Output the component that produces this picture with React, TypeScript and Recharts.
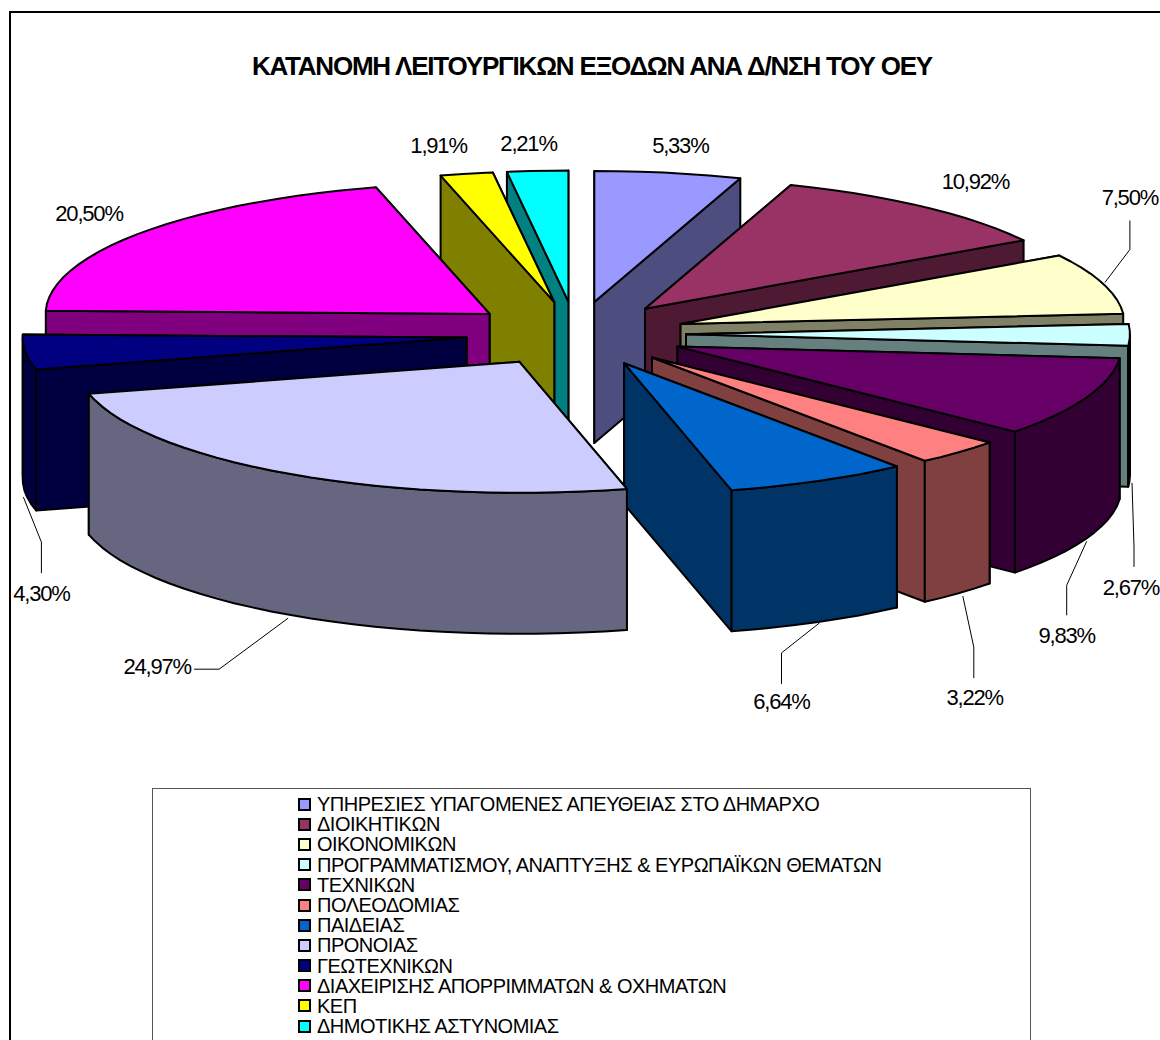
import { Legend, Pie, PieChart } from 'recharts';

const categories = [
  'ΥΠΗΡΕΣΙΕΣ ΥΠΑΓΟΜΕΝΕΣ ΑΠΕΥΘΕΙΑΣ ΣΤΟ ΔΗΜΑΡΧΟ',
  'ΔΙΟΙΚΗΤΙΚΩΝ',
  'ΟΙΚΟΝΟΜΙΚΩΝ',
  'ΠΡΟΓΡΑΜΜΑΤΙΣΜΟΥ, ΑΝΑΠΤΥΞΗΣ & ΕΥΡΩΠΑΪΚΩΝ ΘΕΜΑΤΩΝ',
  'ΤΕΧΝΙΚΩΝ',
  'ΠΟΛΕΟΔΟΜΙΑΣ',
  'ΠΑΙΔΕΙΑΣ',
  'ΠΡΟΝΟΙΑΣ',
  'ΓΕΩΤΕΧΝΙΚΩΝ',
  'ΔΙΑΧΕΙΡΙΣΗΣ ΑΠΟΡΡΙΜΜΑΤΩΝ & ΟΧΗΜΑΤΩΝ',
  'ΚΕΠ',
  'ΔΗΜΟΤΙΚΗΣ ΑΣΤΥΝΟΜΙΑΣ',
];
const shares = [5.33, 10.92, 7.5, 2.67, 9.83, 3.22, 6.64, 24.97, 4.3, 20.5, 1.91, 2.21];

const topColors = ['#9999FF', '#993366', '#FFFFCC', '#CCFFFF', '#660066', '#FF8080', '#0066CC', '#CCCCFF', '#000080', '#FF00FF', '#FFFF00', '#00FFFF'];
const sideColors = ['#4D4D80', '#4D1933', '#808066', '#668080', '#330033', '#804040', '#003366', '#666680', '#000040', '#800080', '#808000', '#008080'];

// back to front, the pie is tilted so this can't just be data order
const paintOrder = [11, 10, 9, 0, 1, 2, 3, 4, 5, 6, 8, 7];

const rows = categories.map((name, i) => ({ name, value: shares[i] }));

const CX = 576;
const CY = 334;
const RADIUS = 444;
const SQUASH = 0.295;
const EXPLODE = 110;
const DEPTH = 141;
const FONT = '"Liberation Sans", Arial, sans-serif';

// label centre, relative to the middle of the slice's rim
const labelNudges = [
  [12, -27], [52, -25], [27, -86], [1, 253], [-20, 238], [16, 245],
  [-37, 221], [-134, 192], [16, 241], [-52, -19], [-28, -28], [-9, -27],
];
const leaderNudges: Record<number, number[][]> = {
  2: [[2, -1], [27, -34], [27, -63]],
  3: [[2, 148], [4, 212], [4, 232]],
  4: [[0, 144], [-20, 188], [-20, 218]],
  5: [[4, 144], [15, 195], [15, 226]],
  6: [[1, 142], [-37, 172], [-37, 203]],
  7: [[-3, 144], [-72, 195], [-97, 195]],
  8: [[-2, 145], [16, 190], [16, 221]],
};

const rad = (deg: number) => (deg * Math.PI) / 180;
// recharts angles run counter-clockwise from 3 o'clock, these are clockwise from 12
const toClock = (angle: number) => 90 - angle;

function rimPoint(cx: number, cy: number, r: number, mid: number, clock: number) {
  return [
    cx + EXPLODE * Math.sin(rad(mid)) + r * Math.sin(rad(clock)),
    cy - SQUASH * (EXPLODE * Math.cos(rad(mid)) + r * Math.cos(rad(clock))),
  ];
}

const toPoints = (pts: number[][]) => pts.map((p) => `${p[0].toFixed(1)},${p[1].toFixed(1)}`).join(' ');
const drop = (pts: number[][]) => pts.map((p) => [p[0], p[1] + DEPTH]);

function Slice3D(props: any) {
  const { cx, cy, outerRadius, startAngle, endAngle, name } = props;
  const i = categories.indexOf(name);
  const a0 = toClock(startAngle);
  const a1 = toClock(endAngle);
  const mid = (a0 + a1) / 2;
  const apex = rimPoint(cx, cy, 0, mid, mid);
  const at = (t: number) => rimPoint(cx, cy, outerRadius, mid, t);

  const arc = (from: number, to: number) => {
    const pts: number[][] = [];
    for (let t = from; t < to; t += 3) pts.push(at(t));
    pts.push(at(to));
    return pts;
  };

  const walls = [at(a0), at(a1)]
    .sort((p, q) => p[1] - q[1])
    .map((edge) => [apex, edge, ...drop([edge]), ...drop([apex])]);

  const rimFrom = Math.max(a0, 90);
  const rimTo = Math.min(a1, 270);
  const rim = rimFrom < rimTo ? arc(rimFrom, rimTo) : null;

  return (
    <g stroke="#000" strokeWidth={2} strokeLinejoin="round">
      {walls.map((w, k) => (
        <polygon key={k} points={toPoints(w)} fill={sideColors[i]} />
      ))}
      {rim && <polygon points={toPoints([...rim, ...drop(rim).reverse()])} fill={sideColors[i]} />}
      <polygon points={toPoints([apex, ...arc(a0, a1)])} fill={topColors[i]} />
    </g>
  );
}

function PercentLabel(props: any) {
  const { cx, cy, outerRadius, midAngle, name } = props;
  const i = categories.indexOf(name);
  const mid = toClock(midAngle);
  const [ax, ay] = rimPoint(cx, cy, outerRadius, mid, mid);
  const [dx, dy] = labelNudges[i];
  const leader = leaderNudges[i];
  return (
    <g>
      {leader && (
        <polyline
          points={toPoints(leader.map((p) => [ax + p[0], ay + p[1]]))}
          fill="none"
          stroke="#000"
          strokeWidth={1}
        />
      )}
      <text
        x={ax + dx}
        y={ay + dy}
        textAnchor="middle"
        dominantBaseline="central"
        fontFamily={FONT}
        fontSize={22}
        letterSpacing={-1.2}
        fill="#000"
      >
        {shares[i].toFixed(2).replace('.', ',')}%
      </text>
    </g>
  );
}

function LegendBox() {
  return (
    <div style={{ width: 879, height: 280, boxSizing: 'border-box', border: '1px solid #555', background: '#fff', paddingTop: 5, fontFamily: FONT }}>
      {categories.map((name, i) => (
        <div key={name} style={{ height: 20.2, display: 'flex', alignItems: 'center', paddingLeft: 145 }}>
          <span style={{ width: 13, height: 13, boxSizing: 'border-box', border: '2px solid #000', background: topColors[i], marginRight: 6, flex: 'none' }} />
          <span style={{ fontSize: 20, letterSpacing: -0.5, lineHeight: '20px', whiteSpace: 'nowrap', color: '#000' }}>{name}</span>
        </div>
      ))}
    </div>
  );
}

export default function App() {
  return (
    <div style={{ position: 'absolute', left: 0, top: 0, width: 1160, height: 1040, overflow: 'hidden', background: '#fff' }}>
      <div style={{ position: 'absolute', left: 9, top: 11, width: 1200, height: 1100, border: '2px solid #000' }} />
      <PieChart
        width={1160}
        height={1040}
        margin={{ top: 0, right: 0, bottom: 0, left: 0 }}
        style={{ position: 'absolute', left: 0, top: 0 }}
      >
        <text x={592} y={66} textAnchor="middle" dominantBaseline="central" fontFamily={FONT} fontSize={26} letterSpacing={-1.2} fontWeight="bold" fill="#000">
          ΚΑΤΑΝΟΜΗ ΛΕΙΤΟΥΡΓΙΚΩΝ ΕΞΟΔΩΝ ΑΝΑ Δ/ΝΣΗ ΤΟΥ ΟΕΥ
        </text>
        {paintOrder.map((idx) => (
          <Pie
            key={idx}
            data={rows}
            dataKey="value"
            nameKey="name"
            cx={CX}
            cy={CY}
            outerRadius={RADIUS}
            startAngle={90}
            endAngle={-270}
            isAnimationActive={false}
            shape={(p: any) => (p.name === categories[idx] ? <Slice3D {...p} /> : <g />)}
          />
        ))}
        <Pie
          data={rows}
          dataKey="value"
          nameKey="name"
          cx={CX}
          cy={CY}
          outerRadius={RADIUS}
          startAngle={90}
          endAngle={-270}
          isAnimationActive={false}
          shape={() => <g />}
          label={(p: any) => <PercentLabel {...p} />}
          labelLine={false}
        />
        <Legend content={() => <LegendBox />} wrapperStyle={{ left: 152, top: 788, width: 879, bottom: 'auto' }} />
      </PieChart>
    </div>
  );
}
